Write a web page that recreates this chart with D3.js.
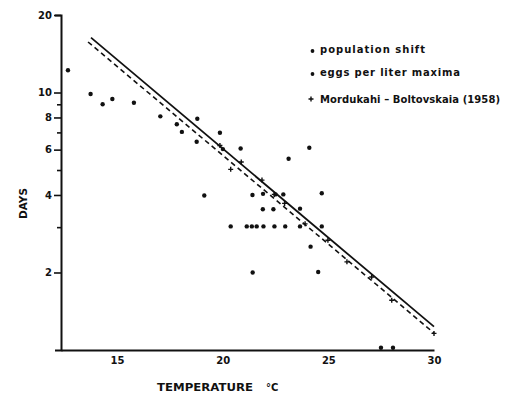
<!DOCTYPE html>
<html>
<head>
<meta charset="utf-8">
<script src="https://cdn.jsdelivr.net/npm/d3@7"></script>
<style>
body{margin:0;background:#fff;}
text{font-family:"DejaVu Sans",sans-serif;font-weight:bold;fill:#111;}
</style>
</head>
<body>
<script>
// dots: population shift + eggs per liter maxima (temperature C, days)
const dotTemp = [12.68,13.75,14.32,14.78,15.80,17.05,17.83,18.07,18.80,18.77,19.87,20.01,20.85,19.13,21.41,21.91,22.50,22.87,24.69,21.90,22.40,23.66,23.12,24.10,20.38,21.14,21.38,21.61,21.93,22.45,22.96,23.66,24.69,24.16,21.42,24.52,27.49,28.06];
const dotDays = [12.2,9.87,9.00,9.44,9.13,8.08,7.53,7.03,7.91,6.44,6.98,6.03,6.06,3.98,4.00,4.04,4.02,4.02,4.06,3.52,3.52,3.54,5.53,6.10,3.02,3.02,3.02,3.02,3.02,3.02,3.02,3.02,3.02,2.52,2.00,2.01,1.02,1.02];

// crosses: Mordukhai-Boltovskaia (1958)
const plusTemp = [19.87,20.88,20.38,21.86,22.44,22.93,23.90,24.98,25.88,27.05,28.00,30.0];
const plusDays = [6.23,5.37,5.03,4.57,4.02,3.71,3.09,2.67,2.20,1.92,1.56,1.16];

// regression lines (end points)
const solidTemp = [13.77,30];
const solidDays = [16.33,1.232];
const dashTemp = [13.63,30];
const dashDays = [15.71,1.164];

const xTicks = [15,20,25,30];
const yTicks = [20,10,9,8,7,6,5,4,3,2];
const yLabels = [20,10,8,6,4,2];

const legendLabels = ["population  shift","eggs per liter maxima","Mordukahi \u2013 Boltovskaia  (1958)"];
const legendMarks = ["dot","dot","plus"];

const width = 514, height = 393;

const svg = d3.select("body").append("svg")
    .attr("width",width)
    .attr("height",height);

const x = d3.scaleLinear().domain([12.35,30]).range([61,434]);
const y = d3.scaleLog().domain([1,20]).range([350,15]);

// y axis
const yAxis = d3.axisLeft(y)
    .tickValues(yTicks)
    .tickFormat(d => yLabels.includes(d) ? d : "")
    .tickSizeOuter(0)
    .tickSize(6)
    .tickPadding(3);

const gy = svg.append("g")
    .attr("transform","translate(61,0)")
    .call(yAxis);
gy.select(".domain").attr("stroke","#111").attr("stroke-width",2);
gy.selectAll(".tick line")
    .attr("stroke","#111")
    .attr("stroke-width",1.6)
    .attr("x2",d => yLabels.includes(d) ? -7 : -4);
gy.selectAll(".tick text")
    .attr("font-size",10)
    .attr("font-family","DejaVu Sans")
    .attr("font-weight","bold")
    .attr("fill","#111");

// x axis, labels only
const xAxis = d3.axisBottom(x)
    .tickValues(xTicks)
    .tickSize(0)
    .tickSizeOuter(0)
    .tickPadding(7);

const gx = svg.append("g")
    .attr("transform","translate(0,350)")
    .call(xAxis);
gx.select(".domain").attr("stroke","#111").attr("stroke-width",2);
gx.selectAll(".tick text")
    .attr("font-size",10)
    .attr("font-family","DejaVu Sans")
    .attr("font-weight","bold")
    .attr("fill","#111");

// regression lines
const line = d3.line()
    .x(d => x(d[0]))
    .y(d => y(d[1]));

svg.append("path")
    .attr("d",line(solidTemp.map((t,i) => [t,solidDays[i]])))
    .attr("stroke","#111")
    .attr("stroke-width",1.8)
    .attr("fill","none");

svg.append("path")
    .attr("d",line(dashTemp.map((t,i) => [t,dashDays[i]])))
    .attr("stroke","#111")
    .attr("stroke-width",1.6)
    .attr("stroke-dasharray","5,3.5")
    .attr("fill","none");

// points
svg.append("g").selectAll("circle")
    .data(dotTemp.map((t,i) => [t,dotDays[i]]))
    .join("circle")
    .attr("cx",d => x(d[0]))
    .attr("cy",d => y(d[1]))
    .attr("r",2.2)
    .attr("fill","#111");

const plusPath = "M-2.5,0H2.5M0,-2.5V2.5";
svg.append("g").selectAll("path")
    .data(plusTemp.map((t,i) => [t,plusDays[i]]))
    .join("path")
    .attr("transform",d => "translate(" + x(d[0]) + "," + y(d[1]) + ")")
    .attr("d",plusPath)
    .attr("stroke","#111")
    .attr("stroke-width",1.4);

// legend
const legendY = [52.5,75.5,102.5];
const legendLen = [105,140,180];
const legend = svg.append("g");
legendLabels.forEach((label,i) => {
    if(legendMarks[i] == "dot"){
        legend.append("circle")
            .attr("cx",312.5)
            .attr("cy",legendY[i] - 1.5)
            .attr("r",1.9)
            .attr("fill","#111");
    }else{
        legend.append("path")
            .attr("transform","translate(311," + (legendY[i] - 3.5) + ")")
            .attr("d",plusPath)
            .attr("stroke","#111")
            .attr("stroke-width",1.4);
    }
    legend.append("text")
        .attr("x",320)
        .attr("y",legendY[i])
        .attr("font-size",10)
        .attr("textLength",legendLen[i])
        .attr("lengthAdjust","spacing")
        .text(label);
});

// axis titles
svg.append("text")
    .attr("transform","translate(27,203.5) rotate(-90)")
    .attr("text-anchor","middle")
    .attr("font-size",10)
    .attr("textLength",31)
    .attr("lengthAdjust","spacingAndGlyphs")
    .text("DAYS");

svg.append("text")
    .attr("x",157)
    .attr("y",391)
    .attr("font-size",10)
    .attr("textLength",96)
    .attr("lengthAdjust","spacingAndGlyphs")
    .text("TEMPERATURE");

svg.append("text")
    .attr("x",266)
    .attr("y",391)
    .attr("font-size",10)
    .text("\u00b0C");
</script>
</body>
</html>
